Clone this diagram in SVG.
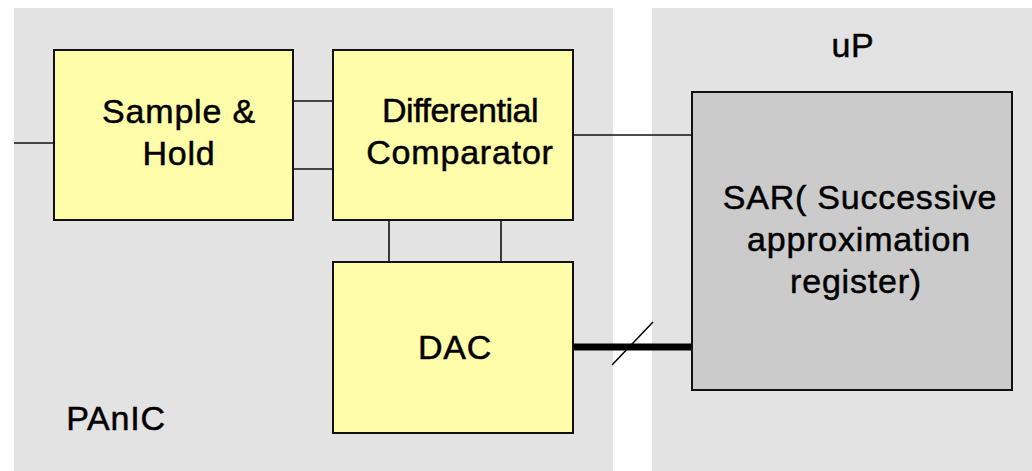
<svg xmlns="http://www.w3.org/2000/svg" width="1032" height="471" viewBox="0 0 1032 471">
<style>
.panel{fill:#e3e3e3;stroke:none}
.blk{fill:#fffcaa;stroke:#111;stroke-width:2}
.sar{fill:#cbcbcb;stroke:#111;stroke-width:2}
.t{font-family:"Liberation Sans",Arial,sans-serif;font-size:34px;fill:#000;stroke:#000;stroke-width:0.5;text-anchor:middle;letter-spacing:0.8px}
.n{letter-spacing:-0.5px}
.w{stroke:#111;stroke-width:1.6;fill:none}
</style>
<rect width="1032" height="471" fill="#ffffff"/>
<g id="panel-panic">
<rect class="panel" x="14" y="8" width="599" height="463"/>
<text class="t" x="116" y="430">PAnIC</text>
</g>
<g id="panel-up">
<rect class="panel" x="652" y="8" width="380" height="463"/>
<text class="t" x="853" y="57">uP</text>
</g>
<g id="connectors">
<line class="w" x1="14" y1="143" x2="54" y2="143"/>
<line class="w" x1="293" y1="101" x2="333" y2="101"/>
<line class="w" x1="293" y1="169" x2="333" y2="169"/>
<line class="w" x1="573" y1="135" x2="692" y2="135"/>
<line class="w" x1="389" y1="220" x2="389" y2="262"/>
<line class="w" x1="501" y1="220" x2="501" y2="262"/>
<line x1="573" y1="347" x2="692" y2="347" stroke="#000" stroke-width="7" stroke-linecap="round"/>
<line x1="612" y1="365" x2="653" y2="322" stroke="#000" stroke-width="1.5"/>
</g>
<g id="sample-hold">
<rect class="blk" x="54" y="50" width="239" height="170"/>
<text class="t" x="179" y="123">Sample &amp;</text>
<text class="t" x="179" y="165">Hold</text>
</g>
<g id="diff-comp">
<rect class="blk" x="333" y="50" width="240" height="170"/>
<text class="t n" x="460" y="122">Differential</text>
<text class="t" x="460" y="164">Comparator</text>
</g>
<g id="dac">
<rect class="blk" x="333" y="262" width="240" height="171"/>
<text class="t" x="455" y="359">DAC</text>
</g>
<g id="sar">
<rect class="sar" x="692" y="92" width="320" height="298"/>
<text class="t" x="860" y="209">SAR( Successive</text>
<text class="t" x="859" y="251">approximation</text>
<text class="t" x="856" y="293">register)</text>
</g>
</svg>
